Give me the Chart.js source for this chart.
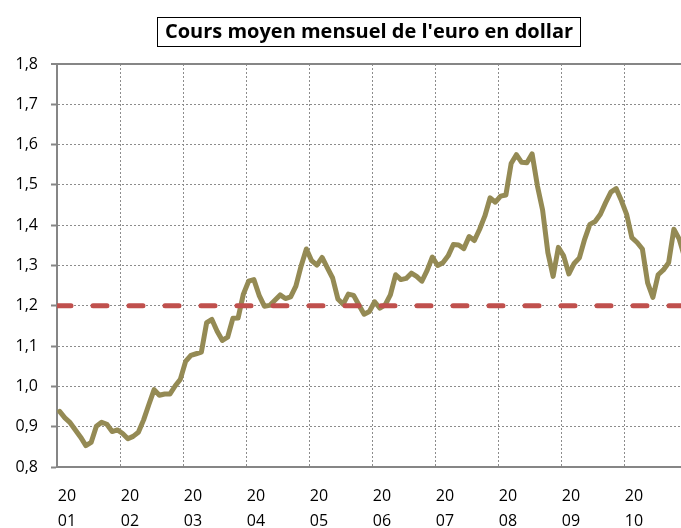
<!DOCTYPE html>
<html>
<head>
<meta charset="utf-8">
<script src="https://cdn.jsdelivr.net/npm/chart.js@4/dist/chart.umd.min.js"></script>
<style>
  html, body { margin: 0; padding: 0; background: #fff; overflow: hidden; }
  #wrap { width: 687px; height: 528px; }
</style>
</head>
<body>
<div id="wrap"><canvas id="cours-euro" width="687" height="528"></canvas></div>
<script>
// Données
const titre = "Cours moyen mensuel de l'euro en dollar";
const annees = ["2001", "2002", "2003", "2004", "2005", "2006", "2007", "2008", "2009", "2010"];
const cours2001 = [0.938, 0.922, 0.910, 0.892, 0.874, 0.853, 0.861, 0.901, 0.911, 0.906, 0.888, 0.892];
const cours2002 = [0.883, 0.870, 0.876, 0.886, 0.917, 0.955, 0.992, 0.978, 0.981, 0.981, 1.001, 1.018];
const cours2003 = [1.062, 1.077, 1.081, 1.085, 1.158, 1.166, 1.137, 1.114, 1.122, 1.169, 1.170, 1.229];
const cours2004 = [1.261, 1.265, 1.226, 1.199, 1.201, 1.214, 1.227, 1.218, 1.222, 1.249, 1.299, 1.341];
const cours2005 = [1.312, 1.301, 1.320, 1.294, 1.269, 1.217, 1.204, 1.229, 1.226, 1.202, 1.179, 1.186];
const cours2006 = [1.210, 1.194, 1.202, 1.227, 1.277, 1.265, 1.268, 1.281, 1.273, 1.261, 1.288, 1.321];
const cours2007 = [1.300, 1.307, 1.324, 1.352, 1.351, 1.342, 1.372, 1.362, 1.390, 1.423, 1.468, 1.457];
const cours2008 = [1.472, 1.475, 1.553, 1.575, 1.556, 1.555, 1.577, 1.498, 1.437, 1.332, 1.273, 1.345];
const cours2009 = [1.324, 1.279, 1.305, 1.319, 1.365, 1.402, 1.409, 1.427, 1.456, 1.482, 1.491, 1.461];
const cours2010 = [1.427, 1.369, 1.357, 1.341, 1.257, 1.221, 1.277, 1.289, 1.307, 1.390, 1.366, 1.322];
const seuil = 1.2;
const yMin = 0.8;
const yMax = 1.8;
const yPas = 0.1;

const cours = [].concat(cours2001, cours2002, cours2003, cours2004, cours2005,
    cours2006, cours2007, cours2008, cours2009, cours2010);
const nbMois = cours.length;

// Cadre du titre
const titreBoite = {
    id: "titreBoite",
    afterDraw(chart) {
        const ctx = chart.ctx;
        ctx.save();
        ctx.fillStyle = "#fff";
        ctx.fillRect(157.5, 17.5, 423, 29);
        ctx.strokeStyle = "#000";
        ctx.lineWidth = 1;
        ctx.strokeRect(157.5, 17.5, 423, 29);
        ctx.fillStyle = "#000";
        ctx.font = "bold 20px 'Open Sans'";
        ctx.textAlign = "center";
        ctx.textBaseline = "middle";
        ctx.fillText(titre, 369, 32);
        ctx.restore();
    },
};

function initialiserGraphique() {
    const canvas = document.getElementById("cours-euro");

    const config = {
        type: "line",
        data: {
            datasets: [
                {
                    label: "Seuil",
                    data: [{ x: -0.5, y: seuil }, { x: nbMois - 0.5, y: seuil }],
                    borderColor: "#C0504D",
                    borderWidth: 5,
                    borderDash: [14, 22],
                    borderCapStyle: "round",
                    pointRadius: 0,
                    order: 0,
                },
                {
                    label: "Cours",
                    data: cours.map((v, i) => ({ x: i, y: v })),
                    borderColor: "#948A54",
                    borderWidth: 5,
                    borderJoinStyle: "round",
                    borderCapStyle: "round",
                    tension: 0,
                    pointRadius: 0,
                    order: 1,
                },
            ],
        },
        options: {
            responsive: false,
            animation: false,
            devicePixelRatio: 1,
            layout: { padding: { top: 64, right: 0, bottom: 0, left: 0 } },
            plugins: {
                legend: { display: false },
                title: { display: false },
                tooltip: { enabled: false },
            },
            scales: {
                x: {
                    type: "linear",
                    min: -0.5,
                    max: nbMois - 0.5,
                    afterBuildTicks: (scale) => {
                        const t = [];
                        for (let k = 0; k <= annees.length; k++) {
                            t.push({ value: -0.5 + 12 * k });
                        }
                        scale.ticks = t;
                    },
                    afterFit: (scale) => {
                        scale.height = 61;
                        // pas de marge à droite : le graphique déborde comme l'original
                        scale.paddingLeft = 0;
                        scale.paddingRight = 0;
                    },
                    ticks: {
                        autoSkip: false,
                        maxRotation: 0,
                        padding: 17,
                        labelOffset: 10,
                        color: "#000",
                        font: { family: "'Open Sans'", size: 16, lineHeight: "25px" },
                        callback: (val, idx) => {
                            const a = annees[idx];
                            return a ? [a.slice(0, 2), a.slice(2)] : "";
                        },
                    },
                    grid: {
                        drawTicks: false,
                        color: (ctx) => (ctx.index === 0 ? "rgba(0,0,0,0)" : "#8c8c8c"),
                        lineWidth: 1,
                    },
                    border: { display: true, color: "#868686", width: 2, dash: [2, 2] },
                },
                y: {
                    min: yMin,
                    max: yMax,
                    afterFit: (scale) => {
                        scale.width = 57;
                    },
                    ticks: {
                        stepSize: yPas,
                        padding: 13,
                        color: "#000",
                        font: { family: "'Open Sans'", size: 16 },
                        callback: (val) => val.toFixed(1).replace(".", ","),
                    },
                    grid: {
                        drawTicks: true,
                        tickLength: 6,
                        tickColor: "#868686",
                        tickWidth: 2,
                        color: (ctx) => (ctx.tick && Math.abs(ctx.tick.value - yMax) < 1e-6 ? "#868686" : "#8c8c8c"),
                        lineWidth: (ctx) => (ctx.tick && Math.abs(ctx.tick.value - yMax) < 1e-6 ? 2 : 1),
                    },
                    border: {
                        display: true,
                        color: "#868686",
                        width: 2,
                        dash: (ctx) => (ctx.tick && Math.abs(ctx.tick.value - yMax) < 1e-6 ? [] : [2, 2]),
                    },
                },
            },
        },
        plugins: [titreBoite],
    };

    canvas.chart = new Chart(canvas, config);
}

document.addEventListener("DOMContentLoaded", initialiserGraphique);
</script>
</body>
</html>
